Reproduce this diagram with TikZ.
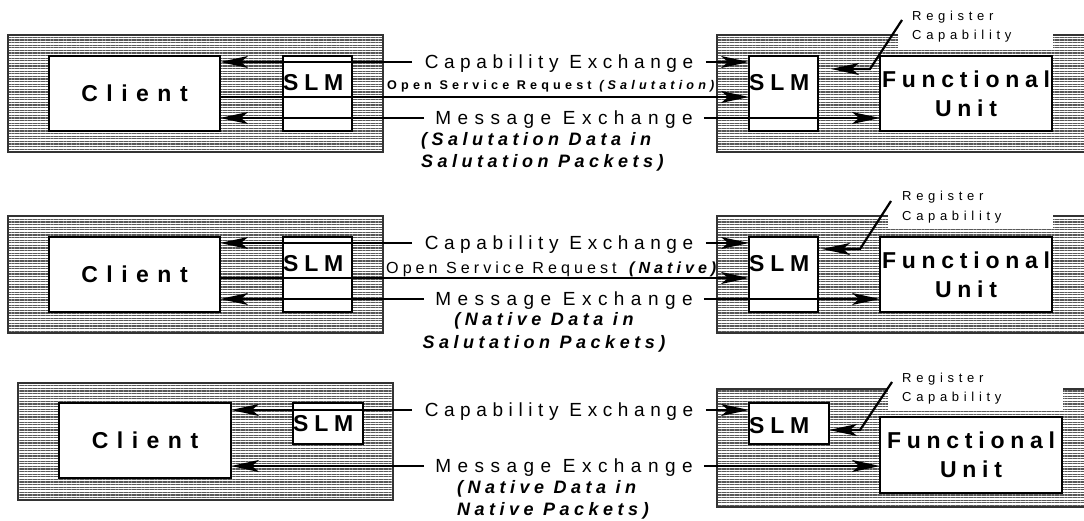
\documentclass[tikz,border=0pt]{standalone}
\usepackage{fontspec}
\setmainfont{Liberation Sans}
\newfontfamily\lsCap[LetterSpace=29.5]{Liberation Sans}
\newfontfamily\lsMsg[LetterSpace=34]{Liberation Sans}
\newfontfamily\lsName[LetterSpace=25]{Liberation Sans}
\newfontfamily\lsClient[LetterSpace=37]{Liberation Sans}
\newfontfamily\lsNote[LetterSpace=25]{Liberation Sans}
\newfontfamily\lsSmall[LetterSpace=33]{Liberation Sans}
\newfontfamily\lsOsr[LetterSpace=25]{Liberation Sans}
\newfontfamily\lsReg[LetterSpace=36]{Liberation Sans}
\usetikzlibrary{arrows.meta,patterns.meta}
\tikzset{
  hatchbox/.style={draw=black!80, line width=1.4pt,
    pattern={Lines[angle=0,distance=2.6pt,line width=1.1pt]}, pattern color=black!65,
    inner sep=0pt, outer sep=0pt},
  wbox/.style={draw=black, line width=1.4pt, fill=white, inner sep=0pt, outer sep=0pt},
  boxsize/.style 2 args={minimum width=#1, minimum height=#2, anchor=north west},
  wire/.style={line width=1.8pt},
  regwire/.style={line width=2.2pt},
  caplabel/.style={font=\lsCap\fontsize{19}{22}\selectfont, text height=13.6pt, text depth=0pt,
    inner xsep=12.5pt, inner ysep=0pt},
  msglabel/.style={font=\lsMsg\fontsize{19}{22}\selectfont, text height=13.6pt, text depth=0pt,
    inner xsep=11pt, inner ysep=0pt},
  clientname/.style={font=\lsClient\bfseries\fontsize{23}{29}\selectfont},
  unitname/.style={font=\lsName\bfseries\fontsize{23}{29}\selectfont, align=center},
  slmname/.style={font=\lsName\bfseries\fontsize{23}{29}\selectfont, inner sep=0pt,
    text height=16.5pt, text depth=0pt, anchor=west},
  note/.style={font=\lsNote\bfseries\itshape\fontsize{18}{22}\selectfont, inner sep=0pt},
  osrbold/.style={font=\lsSmall\bfseries\fontsize{12.6}{14}\selectfont, inner sep=0pt, anchor=base west},
  osrplain/.style={font=\lsOsr\fontsize{16.1}{18}\selectfont, inner sep=0pt, anchor=base west},
  reg/.style={font=\lsReg\fontsize{13}{15}\selectfont, inner sep=0pt, text height=9.3pt,
    text depth=0pt, anchor=west},
  >={Stealth[length=28pt,width=12pt,inset=7pt]}
}
\begin{document}
\begin{tikzpicture}[x=1pt,y=-1pt]
\useasboundingbox (0,0) rectangle (1084,521);
\clip (0,0) rectangle (1084,521);

% ---------------- upper row: Salutation data in Salutation packets
\node[hatchbox, boxsize={375pt}{117pt}] (hostA1) at (8,35) {};
\node[wbox, boxsize={171pt}{75pt}, clientname] (client1) at (49,56) {Client};
\node[wbox, boxsize={69pt}{75pt}] (slmA1) at (283,56) {};
\node[slmname] (slmA1t) at (slmA1.west |- 0,82) {SLM};

\node[hatchbox, boxsize={380pt}{117pt}] (hostB1) at (717,35) {};
\fill[white] (898,20) rectangle (1053,48);
\node[wbox, boxsize={69pt}{75pt}] (slmB1) at (749,56) {};
\node[slmname] (slmB1t) at (slmB1.west |- 0,82) {SLM};
\node[wbox, boxsize={172pt}{75pt}, unitname] (fu1) at (880,56) {Functional\\[0pt]Unit};
\node[reg] (reg1a) at (912,16) {Register};
\node[reg] (reg1b) at (912,35) {Capability};

\node[caplabel] (cap1) at (559,62) {Capability Exchange};
\node[msglabel] (msg1) at (564,118) {Message Exchange};
\node[osrbold] (osr1) at (387,90) {Open Service Request \textit{(Salutation)}};
\node[note, align=left, anchor=base west] (note1) at (421,168) {(Salutation Data in\\Salutation Packets)};

\draw[wire,->] (cap1.west) -- (client1.east |- cap1.west);
\draw[wire,->] (cap1.east) -- (slmB1.west |- cap1.east);
\draw[wire,->] (client1.east |- 0,97) -- (slmB1.west |- 0,97);
\draw[wire,->] (msg1.west) -- (client1.east |- msg1.west);
\draw[wire,->] (msg1.east) -- (fu1.west |- msg1.east);
\coordinate (r1s) at (902,20);
\coordinate (r1k) at (870,69);
\draw[regwire,->,shorten >=13pt] (r1s) -- (r1k) -- (slmB1.east |- r1k);

% ---------------- middle row: Native data in Salutation packets
\node[hatchbox, boxsize={375pt}{117pt}] (hostA2) at (8,216) {};
\node[wbox, boxsize={171pt}{75pt}, clientname] (client2) at (49,237) {Client};
\node[wbox, boxsize={69pt}{75pt}] (slmA2) at (283,237) {};
\node[slmname] (slmA2t) at (slmA2.west |- 0,263) {SLM};

\node[hatchbox, boxsize={380pt}{117pt}] (hostB2) at (717,216) {};
\fill[white] (888,200) rectangle (1053,229);
\node[wbox, boxsize={69pt}{75pt}] (slmB2) at (749,237) {};
\node[slmname] (slmB2t) at (slmB2.west |- 0,263) {SLM};
\node[wbox, boxsize={172pt}{75pt}, unitname] (fu2) at (880,237) {Functional\\[0pt]Unit};
\node[reg] (reg2a) at (902,196) {Register};
\node[reg] (reg2b) at (902,216) {Capability};

\node[caplabel] (cap2) at (559,243) {Capability Exchange};
\node[msglabel] (msg2) at (564,299) {Message Exchange};
\node[osrplain] (osr2) at (386,273.5) {Open Service Request \textbf{\textit{(Native)}}};
\node[note, align=center, anchor=base] (note2) at (544,348) {(Native Data in\\Salutation Packets)};

\draw[wire,->] (cap2.west) -- (client2.east |- cap2.west);
\draw[wire,->] (cap2.east) -- (slmB2.west |- cap2.east);
\draw[wire,->] (client2.east |- 0,278) -- (slmB2.west |- 0,278);
\draw[wire,->] (msg2.west) -- (client2.east |- msg2.west);
\draw[wire,->] (msg2.east) -- (fu2.west |- msg2.east);
\coordinate (r2s) at (891,201);
\coordinate (r2k) at (860,249);
\draw[regwire,->,shorten >=4pt] (r2s) -- (r2k) -- (slmB2.east |- r2k);

% ---------------- lower row: Native data in Native packets
\node[hatchbox, boxsize={375pt}{117pt}] (hostA3) at (18,383) {};
\node[wbox, boxsize={172pt}{75pt}, clientname] (client3) at (59,403) {Client};
\node[wbox, boxsize={70pt}{41pt}] (slmA3) at (293,403) {};
\node[slmname] (slmA3t) at (slmA3.west |- 0,423) {SLM};

\node[hatchbox, boxsize={380pt}{118pt}] (hostB3) at (717,389) {};
\fill[white] (888,370) rectangle (1063,410);
\node[wbox, boxsize={80pt}{41pt}] (slmB3) at (749,403) {};
\node[slmname] (slmB3t) at (slmB3.west |- 0,425) {SLM};
\node[wbox, boxsize={182pt}{76pt}, unitname] (fu3) at (880,417) {Functional\\[0pt]Unit};
\node[reg] (reg3a) at (902,378) {Register};
\node[reg] (reg3b) at (902,397) {Capability};

\node[caplabel] (cap3) at (559,410) {Capability Exchange};
\node[msglabel] (msg3) at (564,466) {Message Exchange};
\node[note, align=left, anchor=base west] (note3) at (457,515) {(Native Data in\\Native Packets)};

\draw[wire,->] (cap3.west) -- (client3.east |- cap3.west);
\draw[wire,->] (cap3.east) -- (slmB3.west |- cap3.east);
\draw[wire,->] (msg3.west) -- (client3.east |- msg3.west);
\draw[wire,->] (msg3.east) -- (fu3.west |- msg3.east);
\coordinate (r3s) at (892,382);
\coordinate (r3k) at (860,430);
\draw[regwire,->] (r3s) -- (r3k) -- (slmB3.east |- r3k);
\end{tikzpicture}
\end{document}
